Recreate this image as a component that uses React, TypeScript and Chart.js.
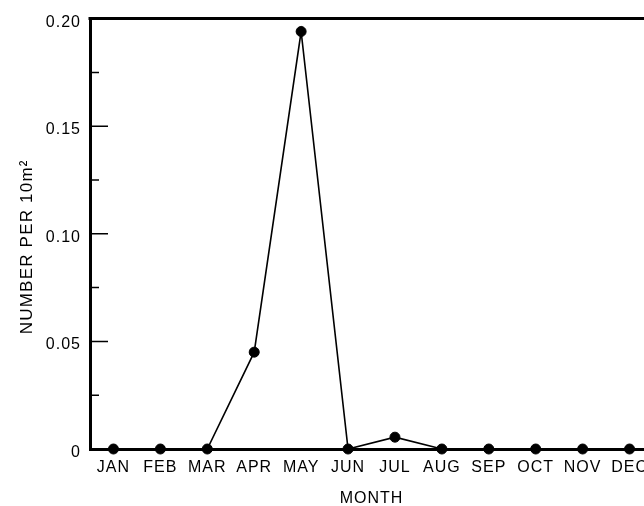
import React, { useEffect, useRef } from "react";
import { Chart, registerables } from "chart.js";

Chart.register(...registerables);

const months = ["JAN", "FEB", "MAR", "APR", "MAY", "JUN", "JUL", "AUG", "SEP", "OCT", "NOV", "DEC"];
const values = [0, 0, 0, 0.045, 0.194, 0, 0.0055, 0, 0, 0, 0, 0];
const majorTicks = [0, 0.05, 0.1, 0.15, 0.2];
const minorTicks = [0.025, 0.075, 0.125, 0.175];
const yTitle = "NUMBER PER 10m²";
const xTitle = "MONTH";

const FONT = "'Liberation Sans', Arial, Helvetica, sans-serif";
const SPACING = "1px";

const spacingPlugin = {
  id: "spacing",
  beforeLayout(chart: any) {
    (chart.ctx as any).letterSpacing = SPACING;
  },
  beforeDraw(chart: any) {
    (chart.ctx as any).letterSpacing = SPACING;
  },
};

const framePlugin = {
  id: "frame",
  afterDraw(chart: any) {
    const { ctx, chartArea } = chart;
    const y = chart.scales.y;
    ctx.save();
    ctx.strokeStyle = "#000";
    ctx.lineWidth = 3;
    ctx.beginPath();
    ctx.moveTo(chartArea.left - 1.5, chartArea.top);
    ctx.lineTo(chartArea.right, chartArea.top);
    ctx.stroke();
    ctx.lineWidth = 1.5;
    ctx.beginPath();
    for (const v of majorTicks) {
      if (v === 0 || v === 0.2) continue;
      const py = y.getPixelForValue(v);
      ctx.moveTo(chartArea.left, py);
      ctx.lineTo(chartArea.left + 18, py);
    }
    for (const v of minorTicks) {
      const py = y.getPixelForValue(v);
      ctx.moveTo(chartArea.left, py);
      ctx.lineTo(chartArea.left + 9, py);
    }
    ctx.stroke();
    // y-axis title
    (ctx as any).letterSpacing = "1.2px";
    ctx.fillStyle = "#000";
    ctx.font = `17px ${FONT}`;
    ctx.textAlign = "center";
    ctx.textBaseline = "middle";
    ctx.translate(y.left + 27, (chartArea.top + chartArea.bottom) / 2 + 13);
    ctx.rotate(-Math.PI / 2);
    ctx.fillText(yTitle, 0, 0);
    ctx.restore();
  },
};

export default function App() {
  const ref = useRef<HTMLCanvasElement | null>(null);
  useEffect(() => {
    if (!ref.current) return;
    const chart = new Chart(ref.current, {
      type: "line",
      data: {
        labels: months,
        datasets: [
          {
            data: values,
            borderColor: "#000",
            borderWidth: 1.6,
            pointBackgroundColor: "#000",
            pointBorderColor: "#000",
            pointRadius: 5,
            pointBorderWidth: 1,
            tension: 0,
            clip: false as any,
          },
        ],
      },
      options: {
        animation: false,
        responsive: false,
        maintainAspectRatio: false,
        layout: { padding: { top: 16, right: 17, left: 0, bottom: 0 } },
        plugins: { legend: { display: false }, tooltip: { enabled: false } },
        scales: {
          x: {
            type: "category",
            offset: true,
            grid: { display: false, drawTicks: false },
            border: { display: true, color: "#000", width: 3 },
            ticks: {
              color: "#000",
              font: { family: FONT, size: 16 },
              padding: 9,
              maxRotation: 0,
              autoSkip: false,
            },
            title: {
              display: true,
              text: xTitle,
              color: "#000",
              font: { family: FONT, size: 16 },
              padding: { top: 4, bottom: 4 },
            },
            afterFit(scale: any) {
              scale.height = 63;
            },
          },
          y: {
            min: 0,
            max: 0.2,
            grid: { display: false, drawTicks: false },
            border: { display: true, color: "#000", width: 3 },
            ticks: {
              stepSize: 0.05,
              color: "#000",
              font: { family: FONT, size: 16 },
              padding: 9,
              labelOffset: 3.5,
              callback: (v: any) => (Number(v) === 0 ? "0" : Number(v).toFixed(2)),
            },
            title: { display: false },
            afterFit(scale: any) {
              scale.width = 90;
            },
          },
        },
      },
      plugins: [spacingPlugin, framePlugin],
    });
    return () => chart.destroy();
  }, []);

  return (
    <div
      style={{
        position: "absolute",
        left: 0,
        top: 0,
        width: 644,
        height: 506,
        overflow: "hidden",
        background: "#fff",
      }}
    >
      <canvas ref={ref} width={670} height={512} style={{ display: "block" }} />
    </div>
  );
}
